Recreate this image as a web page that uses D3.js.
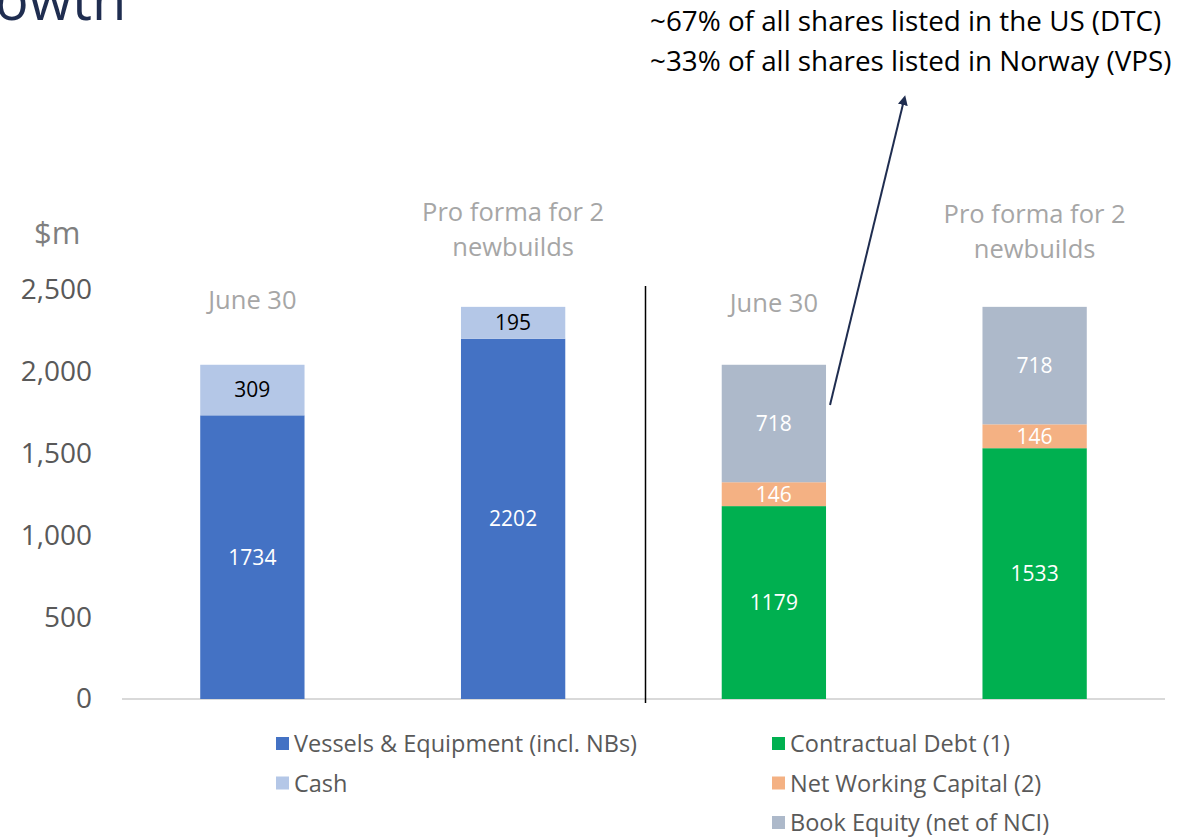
<!DOCTYPE html>
<html>
<head>
<meta charset="utf-8">
<script src="https://cdn.jsdelivr.net/npm/d3@7"></script>
<style>
  body { margin: 0; background: #fff; }
  text { font-family: "Open Sans", "Noto Sans", sans-serif; }
</style>
</head>
<body>
<div id="chart"></div>
<script>
// categories, two panels of two columns each
var categories = ["a1", "a2", "l1", "l2"];
var columnTitles = [["June 30"], ["Pro forma for 2", "newbuilds"], ["June 30"], ["Pro forma for 2", "newbuilds"]];

// assets side
var vessels = [1734, 2202];
var cash = [309, 195];
// liabilities / equity side
var debt = [1179, 1533];
var nwc = [146, 146];
var equity = [718, 718];

var yTicks = [0, 500, 1000, 1500, 2000, 2500];
var noteLines = ["~67% of all shares listed in the US (DTC)", "~33% of all shares listed in Norway (VPS)"];

var svgWidth = 1202;
var svgHeight = 838;

var svg = d3.select("#chart")
  .append("svg")
  .attr("width", svgWidth)
  .attr("height", svgHeight);

var x = d3.scaleBand()
  .domain(categories)
  .range([122, 1165])
  .paddingInner(0.6)
  .paddingOuter(0.3);

var y = d3.scaleLinear()
  .domain([0, 2500])
  .range([699, 290]);

// build stacked segments
var segments = [];
function addStack(cat, parts) {
  var base = 0;
  parts.forEach(function(p) {
    segments.push({cat: cat, y0: base, y1: base + p.value, value: p.value, fill: p.fill, label: p.label});
    base += p.value;
  });
}
[0, 1].forEach(function(i) {
  addStack(categories[i], [
    {value: vessels[i], fill: "#4472c4", label: "#ffffff"},
    {value: cash[i], fill: "#b4c7e7", label: "#000000"}
  ]);
  addStack(categories[i + 2], [
    {value: debt[i], fill: "#00b050", label: "#ffffff"},
    {value: nwc[i], fill: "#f4b183", label: "#ffffff"},
    {value: equity[i], fill: "#adb9ca", label: "#ffffff"}
  ]);
});

// title fragment at top (cut by the page edge, as in the slide)
svg.append("text")
  .attr("x", -5)
  .attr("y", 20)
  .attr("font-size", "56px")
  .attr("fill", "#1f2d50")
  .text("owth");

// baseline axis
svg.append("line")
  .attr("x1", 122).attr("x2", 1165)
  .attr("y1", y(0)).attr("y2", y(0))
  .attr("stroke", "#d9d9d9")
  .attr("stroke-width", 2);

// y tick labels
var yAxis = svg.append("g")
  .attr("transform", "translate(92,0)")
  .call(d3.axisLeft(y).tickValues(yTicks).tickSize(0).tickPadding(0).tickFormat(d3.format(",")));
yAxis.select(".domain").remove();
yAxis.selectAll("text")
  .attr("font-size", "28px")
  .attr("fill", "#595959")
  .style("font-family", "'Open Sans', sans-serif");

svg.append("text")
  .attr("x", 34)
  .attr("y", 244)
  .attr("font-size", "31px")
  .attr("fill", "#7f7f7f")
  .text("$m");

// bars
svg.selectAll("rect.seg")
  .data(segments)
  .enter()
  .append("rect")
  .attr("class", "seg")
  .attr("x", d => x(d.cat))
  .attr("width", x.bandwidth())
  .attr("y", d => y(d.y1))
  .attr("height", d => y(d.y0) - y(d.y1))
  .attr("fill", d => d.fill);

svg.selectAll("text.val")
  .data(segments)
  .enter()
  .append("text")
  .attr("class", "val")
  .attr("x", d => x(d.cat) + x.bandwidth() / 2)
  .attr("y", d => y((d.y0 + d.y1) / 2))
  .attr("dy", "0.35em")
  .attr("text-anchor", "middle")
  .attr("font-size", "21px")
  .attr("fill", d => d.label)
  .text(d => d.value);

// column titles
categories.forEach(function(c, i) {
  var lines = columnTitles[i];
  var top = lines.length === 1 ? (i < 2 ? 309 : 312) : (i < 2 ? 221 : 223);
  lines.forEach(function(l, j) {
    svg.append("text")
      .attr("x", x(c) + x.bandwidth() / 2)
      .attr("y", top + j * 35)
      .attr("text-anchor", "middle")
      .attr("font-size", "25.5px")
      .attr("fill", "#a6a6a6")
      .text(l);
  });
});

// divider between panels
var midX = (x(categories[1]) + x.bandwidth() + x(categories[2])) / 2 + 2;
svg.append("line")
  .attr("x1", midX).attr("x2", midX)
  .attr("y1", 286).attr("y2", 703)
  .attr("stroke", "#000")
  .attr("stroke-width", 1.5);

// annotation
noteLines.forEach(function(l, i) {
  svg.append("text")
    .attr("x", 650)
    .attr("y", 31 + i * 40)
    .attr("font-size", "27.8px")
    .attr("fill", "#000")
    .text(l);
});

svg.append("defs").append("marker")
  .attr("id", "arrow")
  .attr("viewBox", "0 0 10 10")
  .attr("refX", 5).attr("refY", 5)
  .attr("markerWidth", 5).attr("markerHeight", 5)
  .attr("orient", "auto")
  .append("path")
  .attr("d", "M0,0 L10,5 L0,10 z")
  .attr("fill", "#1f2d50");

svg.append("line")
  .attr("x1", x(categories[2]) + x.bandwidth() + 4)
  .attr("y1", 405)
  .attr("x2", 904)
  .attr("y2", 100)
  .attr("stroke", "#1f2d50")
  .attr("stroke-width", 2)
  .attr("marker-end", "url(#arrow)");

// legend
var legendItems = [
  {name: "Vessels & Equipment (incl. NBs)", fill: "#4472c4", col: 0, row: 0},
  {name: "Cash", fill: "#b4c7e7", col: 0, row: 1},
  {name: "Contractual Debt (1)", fill: "#00b050", col: 1, row: 0},
  {name: "Net Working Capital (2)", fill: "#f4b183", col: 1, row: 1},
  {name: "Book Equity (net of NCI)", fill: "#adb9ca", col: 1, row: 2}
];
var legend = svg.selectAll("g.leg")
  .data(legendItems)
  .enter()
  .append("g")
  .attr("class", "leg")
  .attr("transform", d => `translate(${d.col ? 772 : 276}, ${744 + d.row * 39.5})`);
legend.append("rect")
  .attr("x", 0).attr("y", -7)
  .attr("width", 13).attr("height", 13)
  .attr("fill", d => d.fill);
legend.append("text")
  .attr("x", 18)
  .attr("dy", "0.35em")
  .attr("font-size", "23.5px")
  .attr("fill", "#595959")
  .text(d => d.name);
</script>
</body>
</html>
